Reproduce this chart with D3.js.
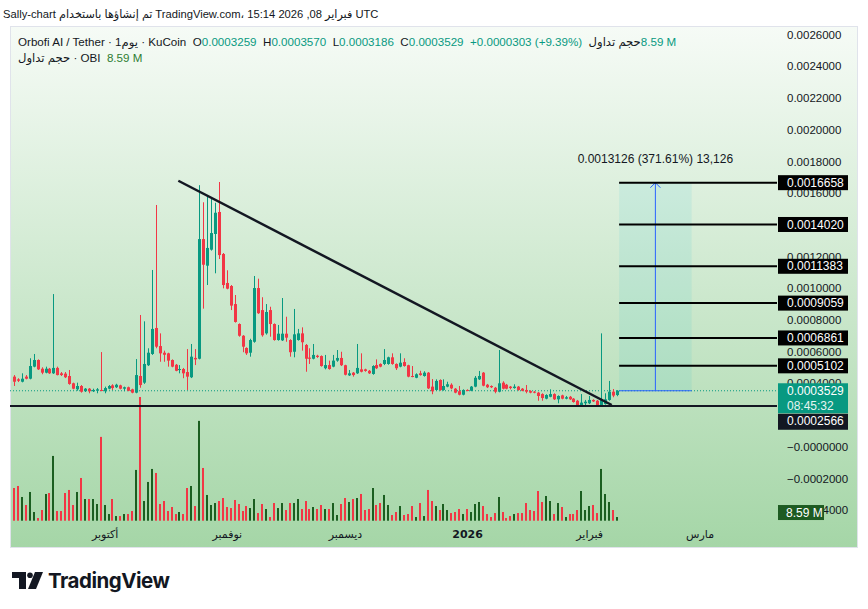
<!DOCTYPE html>
<html><head><meta charset="utf-8">
<script src="https://cdn.jsdelivr.net/npm/d3@7"></script>
<style>
body{margin:0;background:#fff;}
svg{display:block;font-family:"Liberation Sans",Arial,"DejaVu Sans",sans-serif;}
text{white-space:pre;}
</style>
</head><body><svg id="c" width="868" height="609"></svg>
<script>
// ---------------- DATA ----------------
const startDate = Date.UTC(2025, 8, 8);
const endDate = Date.UTC(2026, 1, 9);
const dates = d3.utcDay.range(new Date(startDate), new Date(endDate)); // 154 daily candles

const opens = [0.000442,0.000425,0.000410,0.000442,0.000429,0.000505,0.000547,0.000492,0.000467,0.000492,
0.000463,0.000497,0.000463,0.000461,0.000446,0.000400,0.000362,0.000383,0.000350,0.000366,
0.000350,0.000353,0.000358,0.000350,0.000366,0.000387,0.000375,0.000387,0.000366,0.000375,
0.000362,0.000341,0.000446,0.000404,0.000514,0.000585,0.000749,0.000635,0.000593,0.000589,
0.000547,0.000517,0.000486,0.000490,0.000471,0.000438,0.000560,0.000555,0.001310,0.001142,
0.001243,0.001342,0.001481,0.001216,0.001033,0.001014,0.000900,0.000774,0.000700,0.000623,
0.000593,0.000662,0.001001,0.000862,0.000715,0.000862,0.000774,0.000673,0.000671,0.000713,
0.000673,0.000599,0.000673,0.000715,0.000642,0.000562,0.000555,0.000574,0.000572,0.000495,
0.000515,0.000505,0.000543,0.000560,0.000514,0.000450,0.000467,0.000463,0.000488,0.000488,
0.000479,0.000459,0.000515,0.000522,0.000522,0.000522,0.000564,0.000522,0.000505,0.000534,
0.000514,0.000446,0.000435,0.000463,0.000446,0.000467,0.000379,0.000358,0.000421,0.000358,
0.000379,0.000391,0.000366,0.000350,0.000328,0.000358,0.000353,0.000379,0.000425,0.000467,
0.000391,0.000383,0.000372,0.000347,0.000404,0.000391,0.000379,0.000370,0.000379,0.000366,
0.000358,0.000351,0.000347,0.000341,0.000332,0.000303,0.000315,0.000332,0.000299,0.000324,
0.000303,0.000315,0.000303,0.000290,0.000263,0.000274,0.000274,0.000295,0.000290,0.000263,
0.000269,0.000295,0.000347,0.0003259];

const highs = [0.000452,0.000432,0.000463,0.000452,0.000558,0.000585,0.000551,0.000501,0.000505,0.000497,
0.000963,0.000505,0.000471,0.000471,0.000484,0.000404,0.000404,0.000389,0.000370,0.000370,
0.000366,0.000370,0.000597,0.000379,0.000389,0.000394,0.000397,0.000391,0.000379,0.000379,
0.000366,0.000553,0.000831,0.000791,0.000621,0.001115,0.001525,0.000715,0.000606,0.000593,
0.000551,0.000522,0.000515,0.000497,0.000616,0.000648,0.000616,0.001650,0.001542,0.001582,
0.001565,0.001539,0.001670,0.001222,0.001113,0.001020,0.000957,0.000778,0.000704,0.000627,
0.000681,0.001077,0.001060,0.000943,0.000900,0.000883,0.000778,0.000768,0.000938,0.000820,
0.000678,0.000869,0.000743,0.000753,0.000648,0.000621,0.000648,0.000580,0.000576,0.000579,
0.000543,0.000579,0.000610,0.000599,0.000517,0.000484,0.000471,0.000648,0.000589,0.000492,
0.000484,0.000514,0.000551,0.000526,0.000616,0.000568,0.000589,0.000526,0.000589,0.000558,
0.000517,0.000509,0.000463,0.000479,0.000476,0.000471,0.000427,0.000425,0.000425,0.000425,
0.000410,0.000400,0.000370,0.000383,0.000362,0.000362,0.000383,0.000446,0.000478,0.000471,
0.000396,0.000387,0.000377,0.000610,0.000413,0.000396,0.000383,0.000394,0.000383,0.000370,
0.000389,0.000356,0.000351,0.000345,0.000337,0.000331,0.000362,0.000337,0.000324,0.000328,
0.000320,0.000320,0.000307,0.000295,0.000332,0.000295,0.000320,0.000299,0.000295,0.000715,
0.000337,0.000415,0.000364,0.0003570];

const lows = [0.000383,0.000408,0.000406,0.000425,0.000425,0.000501,0.000484,0.000457,0.000463,0.000459,
0.000459,0.000450,0.000446,0.000433,0.000391,0.000362,0.000353,0.000341,0.000345,0.000337,
0.000345,0.000337,0.000350,0.000337,0.000362,0.000358,0.000370,0.000362,0.000350,0.000350,
0.000337,0.000337,0.000372,0.000396,0.000509,0.000579,0.000621,0.000536,0.000536,0.000505,
0.000501,0.000476,0.000463,0.000432,0.000358,0.000433,0.000515,0.000551,0.000871,0.001020,
0.001237,0.001094,0.001184,0.000999,0.000993,0.000862,0.000783,0.000694,0.000596,0.000579,
0.000568,0.000656,0.000838,0.000694,0.000707,0.000694,0.000669,0.000669,0.000667,0.000662,
0.000568,0.000564,0.000669,0.000606,0.000473,0.000522,0.000551,0.000560,0.000505,0.000488,
0.000486,0.000501,0.000536,0.000509,0.000450,0.000446,0.000442,0.000459,0.000469,0.000473,
0.000459,0.000454,0.000490,0.000501,0.000515,0.000517,0.000517,0.000484,0.000501,0.000505,
0.000438,0.000438,0.000432,0.000448,0.000442,0.000364,0.000331,0.000353,0.000353,0.000353,
0.000375,0.000362,0.000337,0.000324,0.000324,0.000350,0.000350,0.000375,0.000421,0.000381,
0.000370,0.000370,0.000337,0.000343,0.000362,0.000362,0.000362,0.000366,0.000353,0.000350,
0.000337,0.000337,0.000337,0.000290,0.000290,0.000299,0.000312,0.000295,0.000274,0.000299,
0.000299,0.000295,0.000278,0.000259,0.000259,0.000263,0.000269,0.000282,0.000259,0.000259,
0.000265,0.000290,0.000312,0.0003186];

const closes = [0.000410,0.000416,0.000429,0.000429,0.000509,0.000547,0.000488,0.000467,0.000492,0.000463,
0.000497,0.000452,0.000452,0.000438,0.000396,0.000366,0.000383,0.000347,0.000366,0.000350,
0.000358,0.000362,0.000353,0.000370,0.000383,0.000370,0.000391,0.000366,0.000375,0.000353,
0.000341,0.000452,0.000389,0.000522,0.000593,0.000743,0.000631,0.000589,0.000580,0.000543,
0.000505,0.000479,0.000490,0.000463,0.000442,0.000568,0.000551,0.001310,0.001148,0.001254,
0.001348,0.001476,0.001209,0.001020,0.000997,0.000890,0.000787,0.000700,0.000631,0.000589,
0.000673,0.001001,0.000842,0.000703,0.000850,0.000774,0.000673,0.000713,0.000713,0.000688,
0.000596,0.000709,0.000715,0.000659,0.000555,0.000555,0.000579,0.000566,0.000509,0.000515,
0.000490,0.000543,0.000560,0.000514,0.000454,0.000463,0.000452,0.000497,0.000473,0.000478,
0.000463,0.000509,0.000495,0.000505,0.000547,0.000564,0.000522,0.000495,0.000530,0.000509,
0.000442,0.000442,0.000457,0.000452,0.000467,0.000368,0.000350,0.000415,0.000358,0.000383,
0.000394,0.000368,0.000341,0.000328,0.000358,0.000353,0.000379,0.000435,0.000446,0.000385,
0.000375,0.000375,0.000347,0.000400,0.000366,0.000366,0.000370,0.000379,0.000358,0.000353,
0.000347,0.000341,0.000341,0.000320,0.000307,0.000326,0.000332,0.000299,0.000320,0.000303,
0.000312,0.000299,0.000282,0.000263,0.000278,0.000284,0.000295,0.000286,0.000263,0.000295,
0.000299,0.000347,0.0003226,0.0003529];

// volume in millions
const volumes = [76.4,81.1,55.4,36.7,67.1,20.3,6.2,25.0,62.4,64.7,
151.3,22.6,22.6,64.7,71.8,36.7,67.1,99.8,50.7,50.7,
50.7,39.0,195.8,36.7,15.6,50.7,10.9,10.9,15.6,15.6,
22.6,118.6,289.0,46.0,90.5,120.9,111.5,39.0,46.0,22.6,
32.0,15.6,20.3,15.6,76.4,81.1,34.3,233.2,123.2,60.1,
36.7,41.3,46.0,53.0,32.0,29.6,48.4,39.0,22.6,34.3,
29.6,50.7,17.9,39.0,27.3,8.6,41.3,29.6,41.3,25.0,
41.3,41.3,50.7,27.3,46.0,27.3,32.0,27.3,36.7,27.3,
27.3,41.3,13.3,39.0,53.0,43.7,50.7,53.0,62.4,25.0,
27.3,76.4,36.7,41.3,60.1,36.7,13.3,20.3,34.3,13.3,
15.6,34.3,8.6,41.3,10.9,71.8,46.0,34.3,25.0,39.0,
25.0,17.9,20.3,27.3,15.6,27.3,20.3,39.0,43.7,34.3,
15.6,8.6,17.9,55.4,20.3,6.2,10.9,15.6,17.9,17.9,
41.3,25.0,22.6,69.4,43.7,57.7,46.0,15.6,41.3,32.0,
8.6,15.6,15.6,25.0,69.4,25.0,34.3,36.7,17.9,120.9,
62.4,43.7,25.0,8.59];

const priceTicks = [0.0026,0.0024,0.0022,0.0020,0.0018,0.0016,0.0012,0.0010,0.0008,0.0006,0.0004,0,-0.0002,-0.0004];
const priceTickLabels = ["0.0026000","0.0024000","0.0022000","0.0020000","0.0018000","0.0016000","0.0012000","0.0010000","0.0008000","0.0006000","0.0004000","\u22120.0000000","\u22120.0002000","\u22120.0004000"];
const monthTicks = [Date.UTC(2025,9,1),Date.UTC(2025,10,1),Date.UTC(2025,11,1),Date.UTC(2026,0,1),Date.UTC(2026,1,1),Date.UTC(2026,2,1)];
const monthLabels = ["أكتوبر","نوفمبر","ديسمبر","2026","فبراير","مارس"];

const targetLevels = [0.0016658,0.0014020,0.0011383,0.0009059,0.0006861,0.0005102];
const supportLevel = 0.0002566;
const lastPrice = 0.0003529;
const targetTop = 0.0016655;
const trendStart = {t: Date.UTC(2025,9,19,17), v: 0.001678};
const trendEnd = {t: Date.UTC(2026,1,6,17), v: 0.000263};
const rangeStart = Date.UTC(2026,1,8,14), rangeEnd = Date.UTC(2026,1,27,0);
const rangeLabel = "0.0013126 (371.61%) 13,126";

// ---------------- DRAW ----------------
const svg = d3.select('#c');
const dark = '#131722', teal = '#089981', red = '#f23645', volGreen = '#1b5e20';
const defs = svg.append('defs');
const g0 = defs.append('linearGradient').attr('id','bg').attr('x1',0).attr('y1',0).attr('x2',0).attr('y2',1);
g0.append('stop').attr('offset','0%').attr('stop-color','#f6fbf6');
g0.append('stop').attr('offset','100%').attr('stop-color','#a5d6a7');
defs.append('clipPath').attr('id','plot').append('rect').attr('x',10).attr('y',26).attr('width',767).attr('height',500);

svg.append('rect').attr('x',10.5).attr('y',26.5).attr('width',847).attr('height',521)
  .attr('fill','url(#bg)').attr('stroke','#e0e3eb');

const x = d3.scaleUtc().domain([dates[0], dates[dates.length-1]]).range([14, 616.8]);
const y = d3.scaleLinear().domain([0, 0.0026]).range([446.7, 34.6]);
const yv = d3.scaleLinear().domain([0, d3.max(volumes)]).range([520.7, 397]);

const plot = svg.append('g').attr('clip-path','url(#plot)');

// volume bars
plot.append('g').selectAll('rect').data(dates).join('rect')
  .attr('x', (d,i)=>Math.round(x(d))-1).attr('width',2)
  .attr('y', (d,i)=>yv(volumes[i])).attr('height',(d,i)=>yv(0)-yv(volumes[i]))
  .attr('fill',(d,i)=>closes[i]>=opens[i]?volGreen:red);

// current price dotted line
plot.append('line').attr('x1',10).attr('x2',777).attr('y1',y(lastPrice)).attr('y2',y(lastPrice))
  .attr('stroke',teal).attr('stroke-width',1).attr('stroke-dasharray','1,2');

// price range box
const rx0 = x(rangeStart), rx1 = x(rangeEnd), rxm = (rx0+rx1)/2;
plot.append('rect').attr('x',rx0).attr('y',y(targetTop)).attr('width',rx1-rx0).attr('height',y(lastPrice)-y(targetTop))
  .attr('fill','rgba(0,188,212,0.085)');
plot.append('line').attr('x1',rx0).attr('x2',rx1).attr('y1',y(lastPrice)).attr('y2',y(lastPrice)).attr('stroke','#2962ff').attr('stroke-width',1);
plot.append('line').attr('x1',rxm).attr('x2',rxm).attr('y1',y(lastPrice)).attr('y2',y(targetTop)).attr('stroke','#2962ff').attr('stroke-width',1);
plot.append('path').attr('d',`M${rxm-5},${y(targetTop)+5}L${rxm},${y(targetTop)}L${rxm+5},${y(targetTop)+5}`)
  .attr('fill','none').attr('stroke','#2962ff').attr('stroke-width',1);
svg.append('text').attr('x',rxm).attr('y',y(targetTop)-24).attr('dy','0.35em').attr('text-anchor','middle')
  .attr('font-size',12).attr('fill',dark).text(rangeLabel);

// candles
const cg = plot.append('g');
cg.selectAll('line').data(dates).join('line')
  .attr('x1',d=>Math.round(x(d))+0.5).attr('x2',d=>Math.round(x(d))+0.5)
  .attr('y1',(d,i)=>y(highs[i])).attr('y2',(d,i)=>y(lows[i]))
  .attr('stroke',(d,i)=>closes[i]>=opens[i]?teal:red).attr('stroke-width',1);
cg.selectAll('rect').data(dates).join('rect')
  .attr('x',d=>Math.round(x(d))-1).attr('width',3)
  .attr('y',(d,i)=>y(Math.max(opens[i],closes[i])))
  .attr('height',(d,i)=>Math.max(1,Math.abs(y(opens[i])-y(closes[i]))))
  .attr('fill',(d,i)=>closes[i]>=opens[i]?teal:red);

// level lines
plot.append('g').selectAll('line').data(targetLevels).join('line')
  .attr('x1',rx0).attr('x2',778).attr('y1',d=>y(d)).attr('y2',d=>y(d))
  .attr('stroke','#000').attr('stroke-width',2);
plot.append('line').attr('x1',10).attr('x2',778).attr('y1',y(supportLevel)).attr('y2',y(supportLevel))
  .attr('stroke','#131722').attr('stroke-width',2);

// trend line
plot.append('line').attr('x1',x(trendStart.t)).attr('y1',y(trendStart.v)).attr('x2',x(trendEnd.t)).attr('y2',y(trendEnd.v))
  .attr('stroke','#131722').attr('stroke-width',2.5);

// price axis
const pAxis = svg.append('g').attr('transform','translate(787,0)')
  .call(d3.axisRight(y).tickValues(priceTicks).tickSize(0).tickPadding(0).tickFormat((d,i)=>priceTickLabels[i]));
pAxis.select('.domain').remove();
pAxis.selectAll('text').attr('font-size',11.5).attr('fill',dark).attr('font-family','"Liberation Sans",Arial,sans-serif');

// time axis
const tAxis = svg.append('g').attr('transform','translate(0,530)')
  .call(d3.axisBottom(x).tickValues(monthTicks.map(d=>new Date(d))).tickSize(0).tickPadding(0).tickFormat((d,i)=>monthLabels[i]));
tAxis.select('.domain').remove();
tAxis.selectAll('text').attr('font-size',11).attr('fill',dark).attr('font-family','"DejaVu Sans",sans-serif')
  .attr('font-weight',(d,i)=>monthLabels[i]==='2026'?'bold':'normal');

// axis labels (boxes)
function box(v, cy, fill, lines, w=70, h=15){
  const gg = svg.append('g');
  gg.append('rect').attr('x',778).attr('y',cy-h/2).attr('width',w).attr('height',h).attr('fill',fill);
  lines.forEach((t,k)=>{
    gg.append('text').attr('x',787).attr('y',cy-h/2+7.5+k*15).attr('dy','0.35em').attr('font-size',12)
      .attr('fill',k===0?'#fff':'rgba(255,255,255,0.85)').text(t);
  });
}
targetLevels.forEach(v=>box(v, y(v), '#000', [d3.format('.7f')(v)]));
// current price box (2 lines)
svg.append('rect').attr('x',778).attr('y',y(lastPrice)-7.5).attr('width',70).attr('height',30).attr('fill',teal);
svg.append('text').attr('x',787).attr('y',y(lastPrice)).attr('dy','0.35em').attr('font-size',12).attr('fill','#fff').text(d3.format('.7f')(lastPrice));
svg.append('text').attr('x',787).attr('y',y(lastPrice)+15).attr('dy','0.35em').attr('font-size',12).attr('fill','#e6f5f2').text('08:45:32');
box(supportLevel, y(lastPrice)+31, '#131722', [d3.format('.7f')(supportLevel)], 70, 16);
// volume label
svg.append('rect').attr('x',778).attr('y',yv(volumes[volumes.length-1])-12).attr('width',46).attr('height',15).attr('fill','#1e5b22');
svg.append('text').attr('x',786).attr('y',yv(volumes[volumes.length-1])-4.5).attr('dy','0.35em').attr('font-size',12).attr('fill','#fff').text('8.59 M');

// header texts, laid out part by part
function parts(x0, yb, list, size){
  let cx = x0;
  list.forEach(([t,c,fw])=>{
    const el = svg.append('text').attr('x',cx).attr('y',yb).attr('font-size',size).attr('fill',c)
      .attr('font-weight',fw||'normal').text(t);
    cx += el.node().getComputedTextLength();
  });
}
parts(3, 18, [["Sally-chart ",dark],["تم إنشاؤها باستخدام",dark],[" TradingView.com، 15:14 2026 ,08 ",dark],["فبراير",dark],[" UTC",dark]], 11.2);
parts(18, 46, [["Orbofi AI / Tether · 1",dark],["يوم",dark],[" · KuCoin",dark],["  O",dark],["0.0003259",teal],["  H",dark],["0.0003570",teal],["  L",dark],["0.0003186",teal],["  C",dark],["0.0003529",teal],["  +0.0000303 (+9.39%)",teal],["  ",dark],["حجم تداول",dark],["8.59 M",teal]], 11.6);
parts(18, 62, [["حجم تداول",dark],[" · OBI  ",dark],["8.59 M","#2e7d32"]], 11.6);

// TradingView logo
const logo = svg.append('g').attr('fill','#131722');
logo.append('path').attr('d','M12,572H26V589H19V578H12Z');
logo.append('circle').attr('cx',30).attr('cy',575.3).attr('r',2.8);
logo.append('path').attr('d','M35,572H43L36,589H28Z');
svg.append('text').attr('x',48).attr('y',588).attr('font-size',20.5).attr('font-weight',700)
  .attr('font-family','Inter,"Liberation Sans",sans-serif').attr('letter-spacing',-0.5).attr('fill','#131722').text('TradingView');
</script>
</body></html>
